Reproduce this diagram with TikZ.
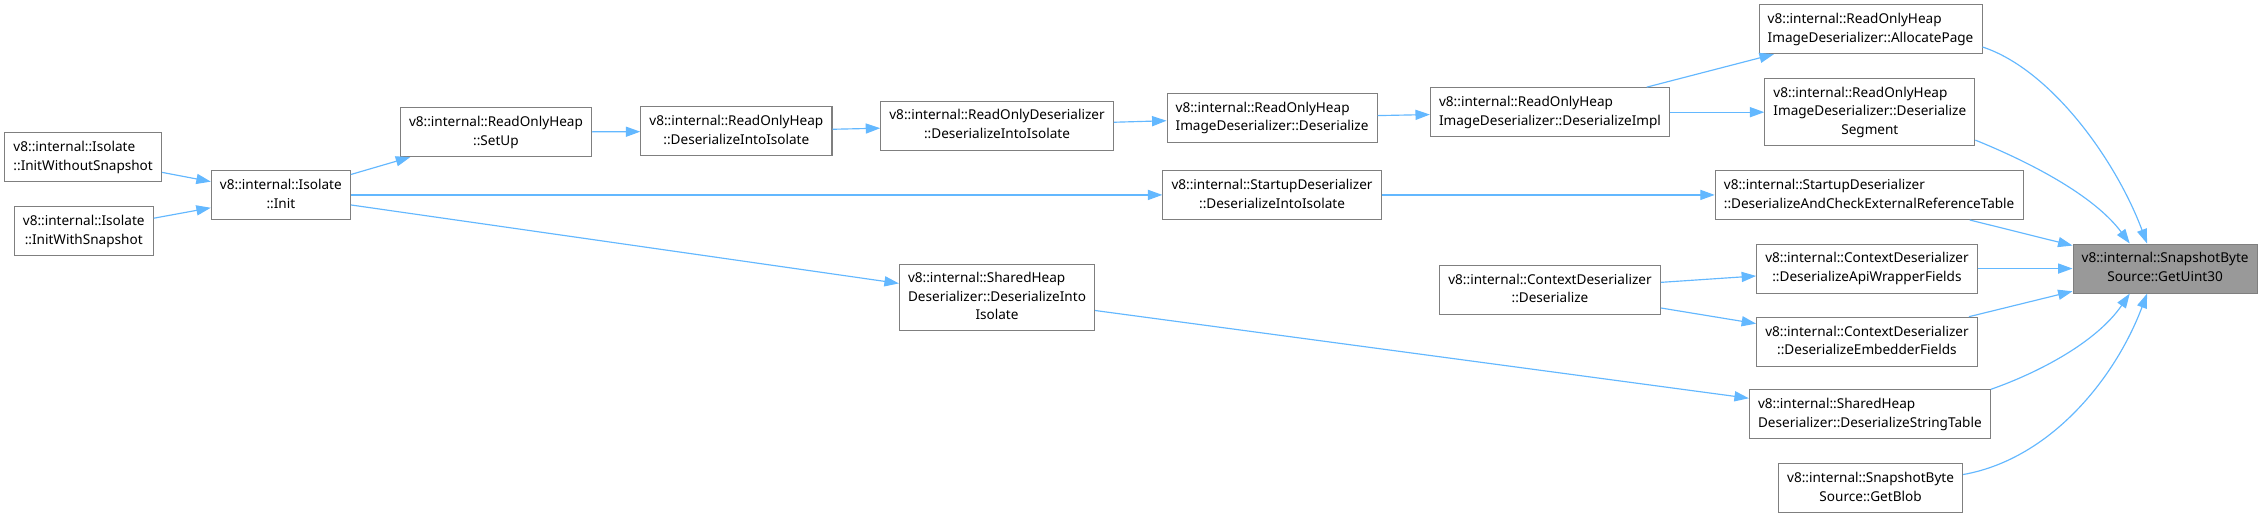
\documentclass[tikz,border=0pt]{standalone}
\usepackage{fontspec}
\setmainfont{Noto Sans}
\usepackage{array}
\usepackage{xcolor}
\usepackage{tikz}
\usetikzlibrary{arrows.meta}

\definecolor{edgeblue}{HTML}{63B8FF}
\definecolor{boxgray}{HTML}{7F7F7F}
\definecolor{rootfill}{HTML}{999999}
\newcommand{\lln}[1]{\multicolumn{1}{@{}l@{}}{#1}}
\newcommand{\fnlbl}[2]{\begin{tabular}{@{}c@{}}\lln{#1}\\#2\end{tabular}}
\newcommand{\fnlblx}[3]{\begin{tabular}{@{}c@{}}\lln{#1}\\\lln{#2}\\#3\end{tabular}}

\begin{document}
\begin{tikzpicture}[x=1pt, y=-1pt,
  fn/.style={draw=boxgray, fill=white, line width=0.7pt, inner xsep=6pt, inner ysep=2pt,
    minimum height=34pt, font=\fontsize{9.4}{13}\selectfont},
  fnroot/.style={fn, fill=rootfill},
  call/.style={draw=edgeblue, line width=0.8pt, -{Triangle[length=10pt,width=7pt]}},
]
\useasboundingbox (0,0) rectangle (1568,359);
\fill[white] (0,0) rectangle (1568,359);
\node[fn] (iwos) at (57.6,109) {\fnlbl{v8::internal::Isolate}{::InitWithoutSnapshot}};
\node[fn] (iws) at (58,160) {\fnlbl{v8::internal::Isolate}{::InitWithSnapshot}};
\node[fn] (init) at (194.5,135) {\fnlbl{v8::internal::Isolate}{::Init}};
\node[fn] (setup) at (343.5,91.5) {\fnlbl{v8::internal::ReadOnlyHeap}{::SetUp}};
\node[fn] (rohdii) at (510,91) {\fnlbl{v8::internal::ReadOnlyHeap}{::DeserializeIntoIsolate}};
\node[fn] (roddii) at (690.5,87) {\fnlbl{v8::internal::ReadOnlyDeserializer}{::DeserializeIntoIsolate}};
\node[fn] (rohidd) at (881,81.5) {\fnlbl{v8::internal::ReadOnlyHeap}{ImageDeserializer::Deserialize}};
\node[fn] (rohidi) at (1073.5,77.7) {\fnlbl{v8::internal::ReadOnlyHeap}{ImageDeserializer::DeserializeImpl}};
\node[fn] (alloc) at (1295.5,20.2) {\fnlbl{v8::internal::ReadOnlyHeap}{ImageDeserializer::AllocatePage}};
\node[fn, minimum height=46pt] (segm) at (1295,77.7) {\fnlblx{v8::internal::ReadOnlyHeap}{ImageDeserializer::Deserialize}{Segment}};
\node[fn] (sddii) at (881,135) {\fnlbl{v8::internal::StartupDeserializer}{::DeserializeIntoIsolate}};
\node[fn] (sdcheck) at (1294.5,135) {\fnlbl{v8::internal::StartupDeserializer}{::DeserializeAndCheckExternalReferenceTable}};
\node[fnroot] (getu) at (1499.5,186) {\fnlbl{v8::internal::SnapshotByte}{Source::GetUint30}};
\node[fn] (cdd) at (1073.5,200.7) {\fnlbl{v8::internal::ContextDeserializer}{::Deserialize}};
\node[fn] (apiwf) at (1293,186) {\fnlbl{v8::internal::ContextDeserializer}{::DeserializeApiWrapperFields}};
\node[fn] (embf) at (1293,236.7) {\fnlbl{v8::internal::ContextDeserializer}{::DeserializeEmbedderFields}};
\node[fn, minimum height=46pt] (shddii) at (690.5,206) {\fnlblx{v8::internal::SharedHeap}{Deserializer::DeserializeInto}{Isolate}};
\node[fn] (strt) at (1295,287) {\fnlbl{v8::internal::SharedHeap}{Deserializer::DeserializeStringTable}};
\node[fn] (blob) at (1295.5,338) {\fnlbl{v8::internal::SnapshotByte}{Source::GetBlob}};

\draw[call] (iwos) -- (init);
\draw[call] (iws) -- (init);
\draw[call] (init) -- (setup);
\draw[call] (init) -- (sddii);
\draw[call] (init) -- (shddii);
\draw[call] (setup) -- (rohdii);
\draw[call] (rohdii) -- (roddii);
\draw[call] (roddii) -- (rohidd);
\draw[call] (rohidd) -- (rohidi);
\draw[call] (rohidi) -- (alloc);
\draw[call] (rohidi) -- (segm);
\draw[call] (sddii) -- (sdcheck);
\draw[call] (cdd) -- (apiwf);
\draw[call] (cdd) -- (embf);
\draw[call] (shddii) -- (strt);
% into GetUint30
\draw[call] ([yshift=5pt]alloc.south east) .. controls (1420,48) and (1465,110) .. ([xshift=-12.5pt]getu.north);
\draw[call] ([yshift=4pt]segm.south east) .. controls (1405,112) and (1450,135) .. ([xshift=-24.5pt]getu.north);
\draw[call] (sdcheck) -- (getu);
\draw[call] (apiwf) -- (getu);
\draw[call] (embf) -- (getu);
\draw[call] (strt.north east) .. controls (1412,258) and (1452,237) .. ([xshift=-24.5pt]getu.south);
\draw[call] ([yshift=-8pt]blob.north east) .. controls (1420,318) and (1465,262) .. ([xshift=-12.5pt]getu.south);
\end{tikzpicture}
\end{document}
